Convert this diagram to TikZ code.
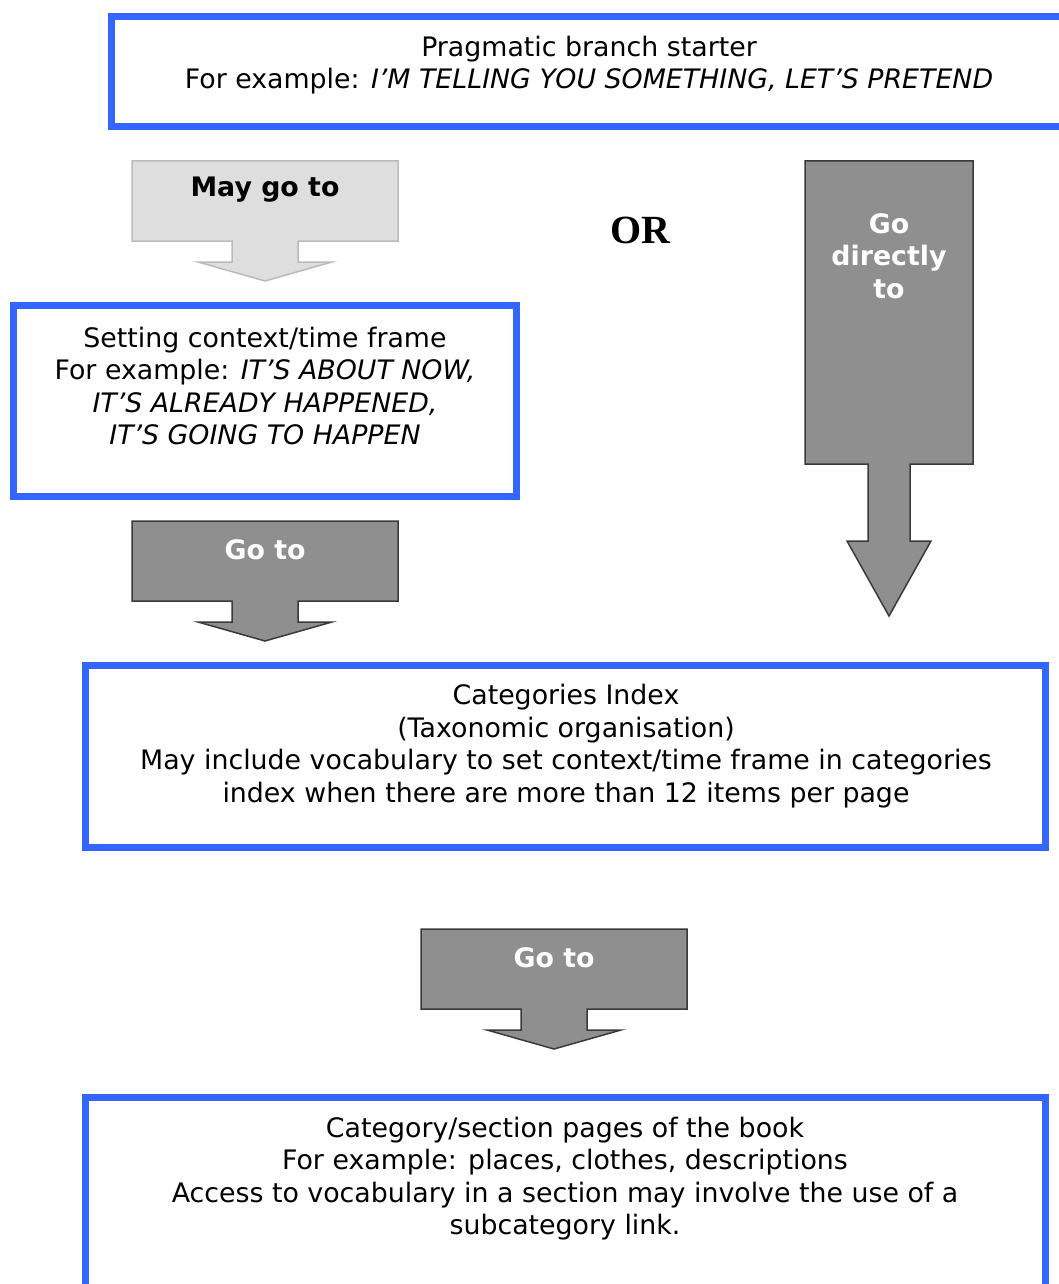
\documentclass[tikz,border=0pt]{standalone}
\usepackage{fontspec}
\setmainfont{DejaVu Sans}
\newfontfamily\orfont{Liberation Serif}
\definecolor{frameblue}{HTML}{3366FF}
\definecolor{lightfill}{HTML}{DEDEDE}
\definecolor{lightedge}{HTML}{BBBBBB}
\definecolor{darkfill}{HTML}{8F8F8F}
\definecolor{darkedge}{HTML}{3A3A3A}
\begin{document}
\begin{tikzpicture}[x=1pt,y=-1pt,
  panel/.style={draw=frameblue, line width=7pt, fill=white},
  bodytext/.style={font=\fontsize{26.8}{32.5}\selectfont, align=center, inner sep=0pt, text=black},
  lightarrow/.style={fill=lightfill, draw=lightedge, line width=1.5pt, line join=miter},
  darkarrow/.style={fill=darkfill, draw=darkedge, line width=1.5pt, line join=miter},
  arrowlabel/.style={font=\fontsize{26.8}{32.5}\selectfont\bfseries, align=center, inner sep=0pt},
]
\useasboundingbox (0,0) rectangle (1058,1284);

% framed panels
\draw[panel] (111,17) rectangle (1075,127);
\node[bodytext] (starter) at (589,65)
  {Pragmatic branch starter\\For example: \textit{I’M TELLING YOU SOMETHING, LET’S PRETEND}};

\draw[panel] (13,305) rectangle (516,496);
\node[bodytext] (context) at (265,386)
  {Setting context/time frame\\For example: \textit{IT’S ABOUT NOW,}\\\textit{IT’S ALREADY HAPPENED,}\\\textit{IT’S GOING TO HAPPEN}};

\draw[panel] (85.5,665) rectangle (1045.5,847.5);
\node[bodytext] (index) at (566,746)
  {Categories Index\\(Taxonomic organisation)\\May include vocabulary to set context/time frame in categories\\index when there are more than 12 items per page};

\draw[panel] (85.5,1097.5) rectangle (1045.5,1300);
\node[bodytext] (pages) at (565,1178.5)
  {Category/section pages of the book\\For example: places, clothes, descriptions\\Access to vocabulary in a section may involve the use of a\\subcategory link.};

% block arrows
\draw[lightarrow] (132,161) -- (398,161) -- (398,241) -- (298,241) -- (298,262)
  -- (332,262) -- (265,281) -- (198,262) -- (232,262) -- (232,241) -- (132,241) -- cycle;
\node[arrowlabel, text=black] (maygo) at (265,190) {May go to};

\draw[darkarrow] (805,161) -- (973,161) -- (973,464) -- (910,464) -- (910,541)
  -- (931,541) -- (889,616) -- (847,541) -- (868,541) -- (868,464) -- (805,464) -- cycle;
\node[arrowlabel, text=white] (direct) at (889,256) {Go\\directly\\to};

\draw[darkarrow] (132,521) -- (398,521) -- (398,601) -- (298,601) -- (298,622)
  -- (332,622) -- (265,641) -- (198,622) -- (232,622) -- (232,601) -- (132,601) -- cycle;
\node[arrowlabel, text=white] (goto1) at (265,550) {Go to};

\draw[darkarrow] (421,929) -- (687,929) -- (687,1009) -- (587,1009) -- (587,1030)
  -- (621,1030) -- (554,1049) -- (487,1030) -- (521,1030) -- (521,1009) -- (421,1009) -- cycle;
\node[arrowlabel, text=white] (goto2) at (554,958) {Go to};

\node[font=\orfont\bfseries\fontsize{40}{44}\selectfont, inner sep=0pt] (or) at (640,230) {OR};
\end{tikzpicture}
\end{document}
